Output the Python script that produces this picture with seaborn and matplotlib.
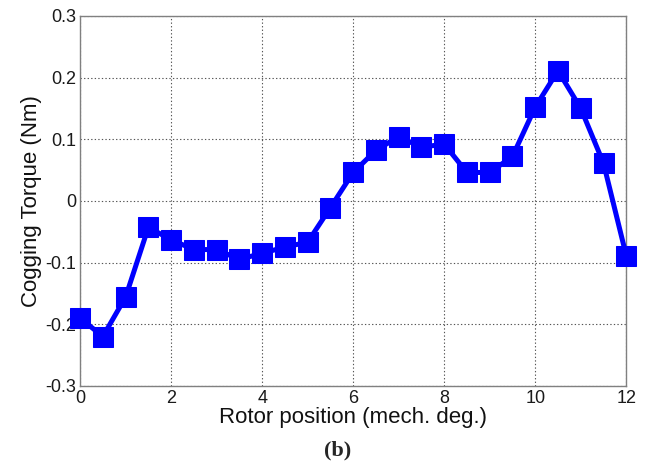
import numpy as np
import pandas as pd
import matplotlib
matplotlib.use("Agg")
import matplotlib.pyplot as plt
import seaborn as sns

# Rotor position (mechanical degrees) and measured cogging torque (Nm)
rotor_position = [0, 0.5, 1, 1.5, 2, 2.5, 3, 3.5, 4, 4.5, 5, 5.5, 6,
                  6.5, 7, 7.5, 8, 8.5, 9, 9.5, 10, 10.5, 11, 11.5, 12]
cogging_torque = [-0.190, -0.220, -0.156, -0.043, -0.063, -0.079, -0.079,
                  -0.095, -0.085, -0.075, -0.067, -0.011, 0.046, 0.082,
                  0.104, 0.087, 0.092, 0.046, 0.046, 0.072, 0.152, 0.211,
                  0.150, 0.061, -0.089]
x_ticks = [0, 2, 4, 6, 8, 10, 12]
y_ticks = [-0.3, -0.2, -0.1, 0, 0.1, 0.2, 0.3]
y_tick_labels = ["-0.3", "-0.2", "-0.1", "0", "0.1", "0.2", "0.3"]

df = pd.DataFrame({"pos": rotor_position, "torque": cogging_torque})

sns.set_theme(style="white")
plt.rcParams["font.family"] = ["Liberation Sans", "DejaVu Sans"]

fig = plt.figure(figsize=(6.51, 4.66), dpi=100)
ax = fig.add_axes([0.123, 0.172, 0.839, 0.794])

sns.lineplot(data=df, x="pos", y="torque", ax=ax, color="#0000ff",
             linewidth=3.6, marker="s", markersize=14,
             markeredgecolor="#0000ff", clip_on=False, zorder=5)

ax.set_xlim(0, 12)
ax.set_ylim(-0.3, 0.3)
ax.set_xticks(x_ticks)
ax.set_xticklabels([str(t) for t in x_ticks])
ax.set_yticks(y_ticks)
ax.set_yticklabels(y_tick_labels)

ax.grid(True, color="#555555", linestyle=(0, (1.2, 2)), linewidth=0.8)
for spine in ax.spines.values():
    spine.set_color("#808080")
    spine.set_linewidth(1.0)

ax.tick_params(axis="both", direction="in", length=4, color="#808080",
               labelsize=13, labelcolor="#1a1a1a", pad=3)

ax.set_xlabel("Rotor position (mech. deg.)", fontsize=16, color="#111111",
              labelpad=0)
ax.set_ylabel("Cogging Torque (Nm)", fontsize=16, color="#111111",
              labelpad=2)

fig.text(0.518, 0.034, "(b)", ha="center", va="center",
         fontfamily="Liberation Serif", fontweight="bold", fontsize=16)

fig.savefig("out.png", dpi=100)
